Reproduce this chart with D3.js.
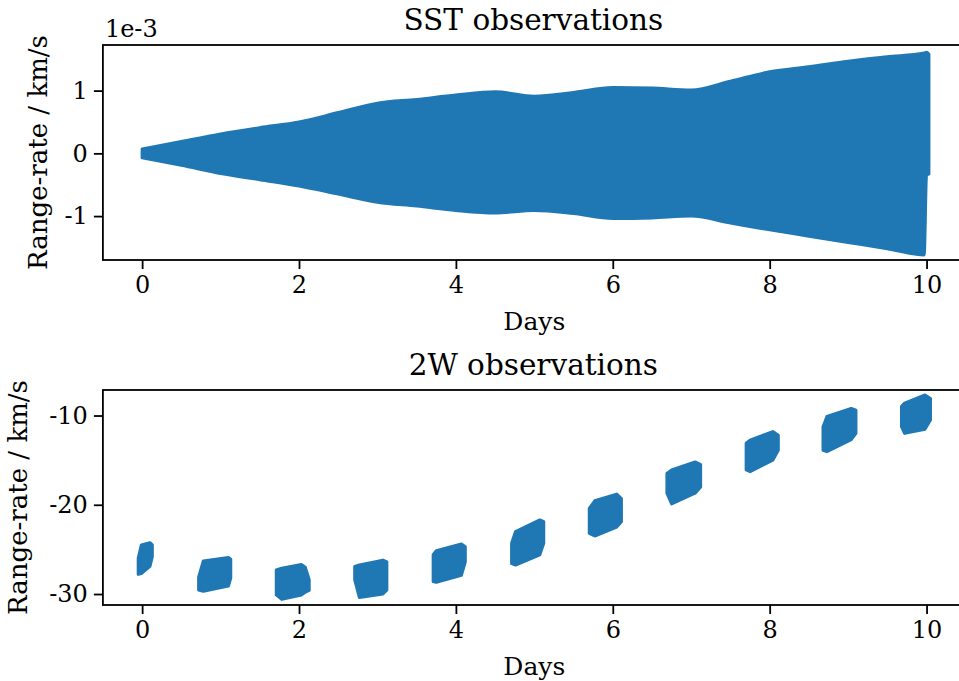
<!DOCTYPE html>
<html>
<head>
<meta charset="utf-8">
<script src="https://cdn.jsdelivr.net/npm/d3@7"></script>
<style>
  html, body { margin: 0; padding: 0; background: #fff; }
  svg text { font-family: "DejaVu Serif", serif; fill: #000; }
  .axis path, .axis line { stroke: #000; stroke-width: 1.8; }
</style>
</head>
<body>
<svg id="chart" width="959" height="681"></svg>
<script>
// x ticks shared by both panels
const dayTicks = [0, 2, 4, 6, 8, 10];

// SST observations: envelope of the oscillating range-rate (units of 1e-3 km/s)
const sstDays  = [0, 0.5, 1, 1.5, 2, 2.5, 3, 3.5, 4, 4.5, 5, 5.5, 6, 6.5, 7, 7.5, 8, 8.5, 9, 9.5, 9.97, 10.0, 10.03];
const sstUpper = [0.07, 0.19, 0.31, 0.41, 0.50, 0.65, 0.80, 0.86, 0.93, 0.98, 0.91, 0.97, 1.05, 1.04, 1.01, 1.15, 1.30, 1.38, 1.47, 1.54, 1.60, 1.61, 1.58];
const sstLower = [-0.07, -0.19, -0.32, -0.42, -0.52, -0.65, -0.78, -0.84, -0.91, -0.95, -0.91, -0.96, -1.04, -1.03, -1.00, -1.11, -1.22, -1.32, -1.42, -1.52, -1.62, -0.35, -0.33];
const sstTicks = [-1, 0, 1];

// 2W observations: one pass per day, outline read as (day, low, high)
const twDays = [
  [-0.05, -0.01, 0.10, 0.13],
  [0.72, 0.78, 1.10, 1.13],
  [1.71, 1.78, 2.03, 2.08, 2.13],
  [2.71, 2.77, 3.07, 3.12],
  [3.71, 3.75, 4.07, 4.12],
  [4.71, 4.76, 5.07, 5.12],
  [5.70, 5.77, 6.05, 6.11],
  [6.69, 6.75, 7.05, 7.12],
  [7.70, 7.75, 8.04, 8.11],
  [8.68, 8.73, 9.04, 9.10],
  [9.68, 9.72, 9.98, 10.05]
];
const twLow = [
  [-27.8, -27.7, -26.9, -25.8],
  [-29.55, -29.7, -29.1, -28.2],
  [-30.1, -30.6, -30.1, -29.8, -29.6],
  [-28.4, -30.4, -30.0, -29.55],
  [-28.6, -28.7, -27.9, -26.4],
  [-26.6, -26.75, -25.6, -24.3],
  [-23.2, -23.5, -22.5, -21.9],
  [-18.7, -19.9, -18.7, -18.0],
  [-16.1, -16.3, -15.0, -13.9],
  [-13.9, -14.05, -12.7, -12.0],
  [-11.25, -12.0, -11.55, -10.5]
];
const twHigh = [
  [-26.0, -24.5, -24.25, -24.5],
  [-28.1, -26.3, -25.9, -26.1],
  [-27.3, -27.1, -26.7, -27.0, -28.4],
  [-26.9, -26.75, -26.2, -26.4],
  [-25.6, -25.15, -24.4, -24.7],
  [-24.3, -23.0, -21.7, -21.9],
  [-20.4, -19.55, -18.8, -19.3],
  [-16.5, -16.1, -15.2, -15.5],
  [-13.1, -12.75, -11.8, -12.2],
  [-11.25, -10.1, -9.2, -9.4],
  [-9.0, -8.6, -7.7, -8.1]
];
const twTicks = [-30, -20, -10];

const blue = '#1f77b4';
const svg = d3.select('#chart');

const x = d3.scaleLinear().domain([-0.5, 10.55]).range([102.9, 969.7]);

function panel(top, bottom, yDomain, yTicks, title, labelX, offsetText) {
  const y = d3.scaleLinear().domain(yDomain).range([bottom, top]);
  const g = svg.append('g');

  // spines
  g.append('rect')
    .attr('x', x.range()[0]).attr('y', top)
    .attr('width', x.range()[1] - x.range()[0]).attr('height', bottom - top)
    .attr('fill', 'none').attr('stroke', '#000').attr('stroke-width', 1.8);

  const xAxis = g.append('g').attr('class', 'axis')
    .attr('transform', `translate(0,${bottom})`)
    .call(d3.axisBottom(x).tickValues(dayTicks).tickSize(9).tickPadding(7).tickFormat(d3.format('d')));
  xAxis.select('.domain').remove();
  xAxis.selectAll('text').style('font-size', '24px');

  const yAxis = g.append('g').attr('class', 'axis')
    .attr('transform', `translate(${x.range()[0]},0)`)
    .call(d3.axisLeft(y).tickValues(yTicks).tickSize(9).tickPadding(6).tickFormat(d => String(d).replace('−', '-')));
  yAxis.select('.domain').remove();
  yAxis.selectAll('text').style('font-size', '24px');

  g.append('text')
    .attr('x', (x.range()[0] + x.range()[1]) / 2 - 3)
    .attr('y', top - 15)
    .attr('text-anchor', 'middle')
    .style('font-size', '29.5px')
    .text(title);

  g.append('text')
    .attr('x', (x.range()[0] + x.range()[1]) / 2 - 2)
    .attr('y', bottom + 70)
    .attr('text-anchor', 'middle')
    .style('font-size', '25px')
    .text('Days');

  g.append('text')
    .attr('transform', `translate(${labelX},${(top + bottom) / 2}) rotate(-90)`)
    .attr('text-anchor', 'middle')
    .style('font-size', '26px')
    .text('Range-rate / km/s');

  if (offsetText) {
    g.append('text')
      .attr('x', x.range()[0] + 2)
      .attr('y', top - 8)
      .style('font-size', '24px')
      .text(offsetText);
  }
  return { g, y };
}

// top panel: SST
const p1 = panel(45, 260, [-1.70, 1.727], sstTicks, 'SST observations', 47, '1e-3');
const sstData = sstDays.map((d, i) => ({ day: d, hi: sstUpper[i], lo: sstLower[i] }));
const sstArea = d3.area()
  .x(d => x(d.day))
  .y0(d => p1.y(d.lo))
  .y1(d => p1.y(d.hi))
  .curve(d3.curveMonotoneX);
p1.g.append('path')
  .datum(sstData)
  .attr('d', sstArea)
  .attr('fill', blue)
  .attr('stroke', blue)
  .attr('stroke-width', 3)
  .attr('stroke-linejoin', 'round');

// bottom panel: 2W
const p2 = panel(390, 605, [-31.23, -7.14], twTicks, '2W observations', 27, null);
const twArea = d3.area()
  .x(d => x(d.day))
  .y0(d => p2.y(d.lo))
  .y1(d => p2.y(d.hi));
const passes = twDays.map((days, k) => days.map((d, i) => ({ day: d, lo: twLow[k][i], hi: twHigh[k][i] })));
p2.g.selectAll('.pass')
  .data(passes)
  .enter()
  .append('path')
  .attr('class', 'pass')
  .attr('d', twArea)
  .attr('fill', blue)
  .attr('stroke', blue)
  .attr('stroke-width', 3)
  .attr('stroke-linejoin', 'round');
</script>
</body>
</html>
